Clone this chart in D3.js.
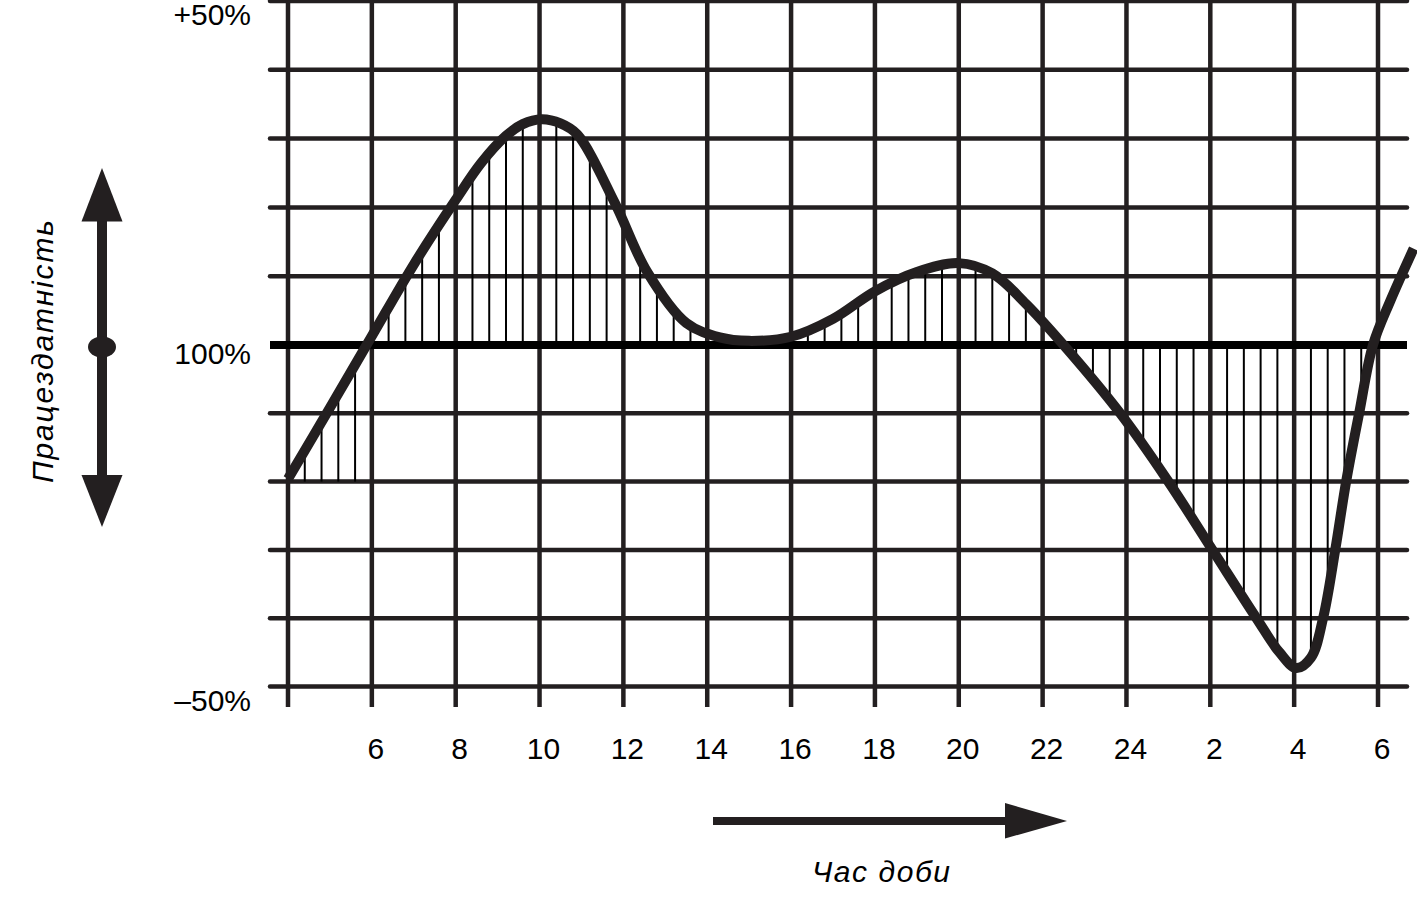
<!DOCTYPE html>
<html>
<head>
<meta charset="utf-8">
<script src="https://cdn.jsdelivr.net/npm/d3@7"></script>
<style>
  html, body { margin: 0; padding: 0; background: #fff; }
  svg { display: block; }
  text { font-family: "Liberation Sans", Arial, sans-serif; fill: #000; }
</style>
</head>
<body>
<svg id="chart" width="1417" height="920"></svg>
<script>
// ---- data ----
const hours = [4, 5, 6, 7, 8, 8.6, 9.2, 9.6, 10.05, 10.5, 10.9, 11.8, 12.56, 13.5, 14.3, 15, 16, 17, 18, 19, 20, 20.8,
  21.6, 22.5, 23.85, 25.0, 26.05, 27.1, 27.65, 28.05, 28.4, 28.69, 28.98, 29.24, 29.55, 29.88, 30.3, 30.85];
const performance = [-19.6, -9.2, 1.3, 11.7, 21.1, 26.4, 30.4, 32.1, 32.8, 32.2, 30.6, 20.6, 10.7, 3.2, 1.1, 0.6, 1.2, 3.8, 7.8, 10.6, 11.9, 10.4,
  6, 0, -10, -20, -30, -40, -45, -47.3, -45.8, -40, -30, -20, -10, 0, 6.5, 14];
const gridHours = [4, 6, 8, 10, 12, 14, 16, 18, 20, 22, 24, 26, 28, 30];
const xTickLabels = ["", "6", "8", "10", "12", "14", "16", "18", "20", "22", "24", "2", "4", "6"];
const gridValues = [-50, -40, -30, -20, -10, 0, 10, 20, 30, 40, 50];
const yLabelValues = [50, 0, -50];
const yLabels = ["+50%", "100%", "\u201350%"];
const hatchStep = 0.4;
const hatchEarlyEnd = 6;     // before this hour, hatching drops to the start level
const hatchEarlyBase = -20;
const yTitle = "Працездатність";
const xTitle = "Час доби";

// ---- scales ----
const ink = "#231f20";
const x = d3.scaleLinear().domain([4, 30]).range([288, 1378]);
const y = d3.scaleLinear().domain([-50, 0, 50]).range([686.5, 345, 1]);

const svg = d3.select("#chart");
svg.append("rect").attr("width", 1417).attr("height", 920).attr("fill", "#fff");

// ---- grid ----
const gridLeft = 270, gridRight = 1407;
svg.append("g").selectAll("line").data(gridValues.filter(v => v !== 0)).join("line")
  .attr("x1", gridLeft).attr("x2", gridRight)
  .attr("y1", d => y(d)).attr("y2", d => y(d))
  .attr("stroke", ink).attr("stroke-width", 4.5).attr("stroke-linecap", "round");

svg.append("g").selectAll("line").data(gridHours).join("line")
  .attr("x1", d => x(d)).attr("x2", d => x(d))
  .attr("y1", 0).attr("y2", 707)
  .attr("stroke", ink).attr("stroke-width", 4.5);

// ---- curve (path built first, used to find hatch ends) ----
const pts = hours.map((h, i) => [h, performance[i]]);
const line = d3.line().x(d => x(d[0])).y(d => y(d[1])).curve(d3.curveCatmullRom.alpha(0.5));
const curvePath = svg.append("path").datum(pts).attr("d", line)
  .attr("fill", "none").attr("stroke", ink).attr("stroke-width", 10)
  .attr("stroke-linejoin", "round");

// sample path for y at given x
const node = curvePath.node();
const total = node.getTotalLength();
const samples = [];
for (let l = 0; l <= total; l += 0.5) { const p = node.getPointAtLength(l); samples.push(p); }
function curveYAt(px) {
  let best = samples[0], bd = Infinity;
  for (const p of samples) { const d = Math.abs(p.x - px); if (d < bd) { bd = d; best = p; } }
  return best.y;
}

// ---- hatching ----
const hatchHours = d3.range(4 + hatchStep, 30 - 1e-6, hatchStep)
  .filter(h => Math.abs(h / 2 - Math.round(h / 2)) > 1e-6);
const hatchG = svg.insert("g", "path");
hatchHours.forEach(h => {
  const px = x(h);
  const cy = curveYAt(px);
  const base = h < hatchEarlyEnd ? y(hatchEarlyBase) : y(0);
  hatchG.append("line")
    .attr("x1", px).attr("x2", px).attr("y1", base).attr("y2", cy)
    .attr("stroke", "#000").attr("stroke-width", 2);
});

// ---- 100% baseline ----
svg.insert("line", "path")
  .attr("x1", gridLeft).attr("x2", gridRight).attr("y1", y(0)).attr("y2", y(0))
  .attr("stroke", "#000").attr("stroke-width", 8);

// ---- labels ----
svg.append("g").selectAll("text").data(yLabelValues).join("text")
  .attr("x", 251).attr("y", d => y(d) + (d === 0 ? 19 : 24))
  .attr("text-anchor", "end").attr("font-size", 30)
  .text((d, i) => yLabels[i]);

svg.append("g").selectAll("text").data(gridHours).join("text")
  .attr("x", d => x(d) + 4).attr("y", 759)
  .attr("text-anchor", "middle").attr("font-size", 30)
  .text((d, i) => xTickLabels[i]);

// ---- y title + double arrow ----
svg.append("text")
  .attr("transform", "translate(53,351.5) rotate(-90)")
  .attr("text-anchor", "middle").attr("font-size", 30).attr("font-style", "italic")
  .attr("textLength", 263).attr("lengthAdjust", "spacing")
  .text(yTitle);

const ax = 102;
svg.append("line").attr("x1", ax).attr("x2", ax).attr("y1", 215).attr("y2", 482)
  .attr("stroke", ink).attr("stroke-width", 10);
svg.append("path").attr("d", `M${ax},168 L${ax - 20.5},221.5 L${ax + 20.5},221.5 Z`).attr("fill", ink);
svg.append("path").attr("d", `M${ax},527 L${ax - 20.5},475 L${ax + 20.5},475 Z`).attr("fill", ink);
svg.append("ellipse").attr("cx", ax).attr("cy", 347).attr("rx", 14).attr("ry", 10.5).attr("fill", ink);

// ---- x title + arrow ----
svg.append("line").attr("x1", 713).attr("x2", 1010).attr("y1", 821).attr("y2", 821)
  .attr("stroke", ink).attr("stroke-width", 8);
svg.append("path").attr("d", "M1067,821 L1005,803 L1005,838.5 Z").attr("fill", ink);
svg.append("text")
  .attr("x", 881).attr("y", 882)
  .attr("text-anchor", "middle").attr("font-size", 30).attr("font-style", "italic")
  .attr("textLength", 138).attr("lengthAdjust", "spacing")
  .text(xTitle);
</script>
</body>
</html>
